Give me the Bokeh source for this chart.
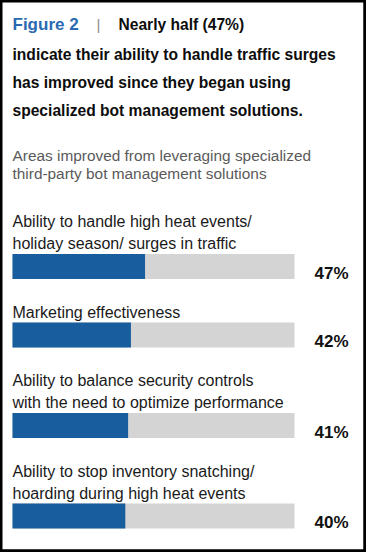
from bokeh.plotting import figure
from bokeh.models import Range1d, ColumnDataSource
from bokeh.core.properties import value
from bokeh.embed import file_html
from bokeh.resources import INLINE

# ---------------- data ----------------
categories = [
    ["Ability to handle high heat events/", "holiday season/ surges in traffic"],
    ["Marketing effectiveness"],
    ["Ability to balance security controls", "with the need to optimize performance"],
    ["Ability to stop inventory snatching/", "hoarding during high heat events"],
]
values = [47, 42, 41, 40]
pct_labels = ["47%", "42%", "41%", "40%"]

fig_label = "Figure 2"
title_first = "Nearly half (47%)"
title_lines = [
    "indicate their ability to handle traffic surges",
    "has improved since they began using",
    "specialized bot management solutions.",
]
subtitle_lines = [
    "Areas improved from leveraging specialized",
    "third-party bot management solutions",
]

# ---------------- layout ----------------
W, H = 366, 552
X0_PX = 12.0        # pixel where 0% starts
TRACK_PX = 282.0    # pixel width for 100%
SCALE = TRACK_PX / 100.0

def px2x(px):
    return (px - X0_PX) / SCALE

FONT = "Liberation Sans"
BLUE = "#185d9e"
TITLE_BLUE = "#2a6ab2"
GREY_TRACK = "#d4d4d4"

p = figure(width=W, height=H, output_backend="svg", toolbar_location=None,
           x_range=Range1d(px2x(0), px2x(W)), y_range=Range1d(H, 0),
           min_border=0, background_fill_color="white", border_fill_color="white")
p.axis.visible = False
p.xgrid.visible = False
p.ygrid.visible = False
p.outline_line_color = "black"
p.outline_line_width = 4

# heavier right / bottom frame edges (as in the reference)
p.segment(x0=[px2x(W - 1.5), px2x(0)], y0=[0, H - 1.5],
          x1=[px2x(W - 1.5), px2x(W)], y1=[H, H - 1.5],
          line_color="black", line_width=3)

# title
p.text(x=[px2x(12)], y=[24], text=[fig_label], text_font=value(FONT),
       text_font_style="bold", text_font_size="17px", text_color=TITLE_BLUE,
       text_baseline="alphabetic")
p.text(x=[px2x(98)], y=[24], text=["|"], text_font=value(FONT),
       text_font_size="15px", text_color="#8a8a8a", text_baseline="alphabetic",
       text_align="center")
p.text(x=[px2x(118)], y=[24], text=[title_first], text_font=value(FONT),
       text_font_style="bold", text_font_size="15.6px", text_color="#0d0d0d",
       text_baseline="alphabetic")
tl_y = [54 + 28 * i for i in range(len(title_lines))]
p.text(x=[px2x(12)] * len(title_lines), y=tl_y, text=title_lines, text_font=value(FONT),
       text_font_style="bold", text_font_size="15.6px", text_color="#0d0d0d",
       text_baseline="alphabetic")

# subtitle
st_y = [155 + 18 * i for i in range(len(subtitle_lines))]
p.text(x=[px2x(12)] * len(subtitle_lines), y=st_y, text=subtitle_lines,
       text_font=value(FONT), text_font_size="15.4px", text_color="#5a5a5a",
       text_baseline="alphabetic")

# categories + bars
lab_x, lab_y, lab_t = [], [], []
bar_c, bar_top, bar_bot = [], [], []
y = 221.0
LINE = 22.0
BAR_H = 25.0
for lines in categories:
    for i, t in enumerate(lines):
        lab_x.append(px2x(12)); lab_y.append(y + LINE * i); lab_t.append(t)
    last = y + LINE * (len(lines) - 1)
    top = last + 10.5
    bar_top.append(top); bar_bot.append(top + BAR_H); bar_c.append(top + BAR_H / 2)
    y = top + BAR_H + 33

p.text(x=lab_x, y=lab_y, text=lab_t, text_font=value(FONT), text_font_size="16px",
       text_color="#1a1a1a", text_baseline="alphabetic")

src = ColumnDataSource(dict(val=values, full=[100] * len(values), zero=[0] * len(values),
                            top=bar_top, bottom=bar_bot, c=bar_c, lab=pct_labels))
p.quad(left="zero", right="full", top="top", bottom="bottom", source=src,
       fill_color=GREY_TRACK, line_color=None)
p.quad(left="zero", right="val", top="top", bottom="bottom", source=src,
       fill_color=BLUE, line_color=None)
src.data["lx"] = [px2x(348)] * len(values)
p.text(x="lx", y="c", text="lab", source=src, text_font=value(FONT),
       text_font_style="bold", text_font_size="17px", text_color="#111111",
       text_align="right", text_baseline="alphabetic", y_offset=6.5)

open("out.html", "w").write(file_html(p, INLINE))
